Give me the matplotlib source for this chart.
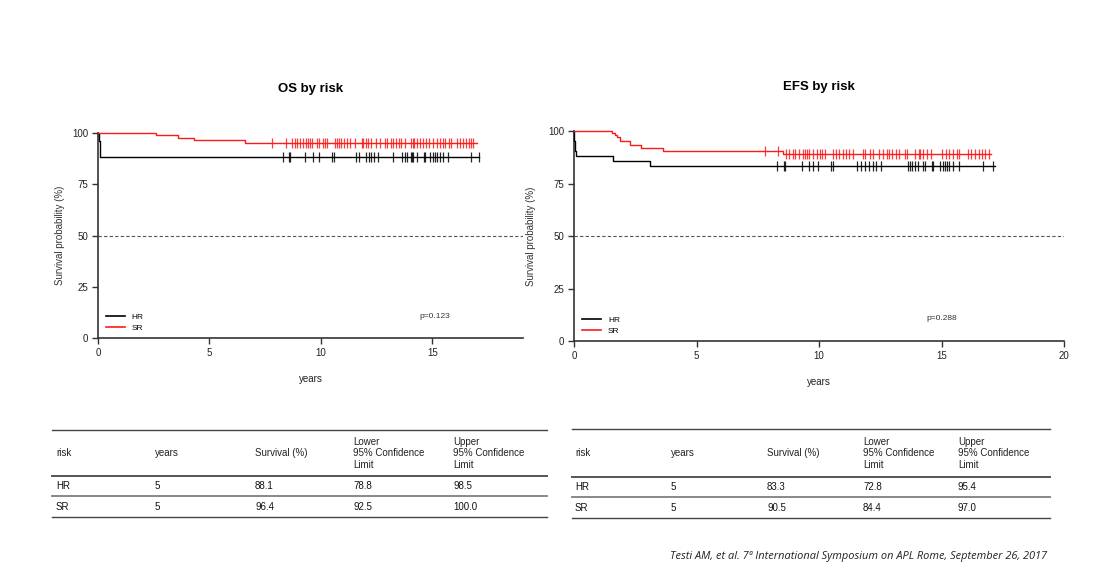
import numpy as np
import matplotlib.pyplot as plt
from matplotlib.lines import Line2D

plt.rcParams['font.family'] = ['Liberation Sans', 'DejaVu Sans']

# ---- OS by risk ----
os_hr_times = [0.0, 0.03, 0.08]
os_hr_surv = [100.0, 96.0, 88.1]
os_hr_end = 17.1
os_hr_cens = [8.30, 8.55, 8.60, 9.29, 9.65, 9.92, 10.50, 10.57, 11.55, 11.71, 12.01, 12.14,
              12.26, 12.38, 12.55, 13.22, 13.64, 13.78, 13.87, 14.02, 14.08, 14.14, 14.29,
              14.63, 14.67, 14.87, 15.04, 15.13, 15.22, 15.34, 15.46, 15.71, 16.72, 17.07]

os_sr_times = [0.0, 2.6, 3.6, 4.3, 6.6]
os_sr_surv = [100.0, 98.9, 97.8, 96.4, 95.2]
os_sr_end = 16.98
os_sr_cens = [7.81, 8.43, 8.70, 8.82, 8.93, 9.05, 9.20, 9.35, 9.44, 9.50, 9.59, 9.80, 9.92,
              10.10, 10.19, 10.25, 10.61, 10.70, 10.79, 10.88, 11.03, 11.18, 11.30, 11.54,
              11.83, 11.89, 12.01, 12.13, 12.25, 12.46, 12.64, 12.88, 12.94, 13.12, 13.24,
              13.36, 13.51, 13.57, 13.78, 14.02, 14.11, 14.17, 14.29, 14.43, 14.58, 14.73,
              14.85, 15.03, 15.21, 15.33, 15.45, 15.57, 15.72, 15.84, 16.11, 16.23, 16.35,
              16.50, 16.62, 16.74, 16.83]

# ---- EFS by risk ----
efs_hr_times = [0.0, 0.02, 0.05, 0.1, 1.6, 3.1]
efs_hr_surv = [100.0, 95.2, 90.5, 88.1, 85.7, 83.3]
efs_hr_end = 17.2
efs_hr_cens = [8.30, 8.57, 8.60, 9.30, 9.60, 9.77, 9.96, 10.50, 10.56, 11.54, 11.70, 11.86,
               12.05, 12.19, 12.32, 12.52, 13.63, 13.71, 13.79, 13.90, 14.04, 14.26, 14.31,
               14.61, 14.66, 14.94, 15.07, 15.15, 15.24, 15.32, 15.45, 15.73, 16.71, 17.09]

efs_sr_times = [0.0, 1.54, 1.68, 1.74, 1.88, 2.29, 2.73, 3.65, 8.55]
efs_sr_surv = [100.0, 98.9, 98.1, 97.0, 95.2, 93.3, 92.0, 90.5, 89.1]
efs_sr_end = 17.0
efs_sr_cens = [7.79, 8.33, 8.65, 8.79, 8.92, 9.03, 9.20, 9.33, 9.44, 9.49, 9.60, 9.77, 9.93,
               10.04, 10.12, 10.26, 10.56, 10.69, 10.80, 10.96, 11.10, 11.24, 11.40, 11.81,
               11.89, 12.08, 12.22, 12.43, 12.60, 12.76, 12.87, 12.98, 13.14, 13.28, 13.49,
               13.58, 13.93, 14.07, 14.12, 14.26, 14.42, 14.58, 15.02, 15.18, 15.29, 15.48,
               15.62, 15.73, 16.08, 16.22, 16.35, 16.52, 16.65, 16.79, 16.92]

# ---- tables ----
table_header = ['risk', 'years', 'Survival (%)', 'Lower\n95% Confidence\nLimit',
                'Upper\n95% Confidence\nLimit']
os_table = [['HR', '5', '88.1', '78.8', '98.5'],
            ['SR', '5', '96.4', '92.5', '100.0']]
efs_table = [['HR', '5', '83.3', '72.8', '95.4'],
             ['SR', '5', '90.5', '84.4', '97.0']]

W, H = 1120, 585
RED = '#ff1a1a'


def px(x, y):
    return x / W, 1 - y / H


def km_curve(ax, times, surv, end, cens, color):
    t = list(times) + [end]
    s = list(surv) + [surv[-1]]
    ax.step(t, s, where='post', color=color, lw=1.0, clip_on=False, zorder=3)
    idx = np.searchsorted(times, cens, side='right') - 1
    ax.plot(cens, np.array(surv)[idx], ls='none', marker='|', ms=6.5, mew=0.9,
            color=color, alpha=0.85, clip_on=False, zorder=4)


def km_panel(rect, title, xmax, xticks, curves, pval, title_y, xlabel_y, ylabel_x):
    ax = fig.add_axes(rect)
    for c in curves:
        km_curve(ax, *c)
    ax.axhline(50, color='#555555', lw=0.8, ls=(0, (3, 2)))
    ax.set_xlim(0, xmax)
    ax.set_ylim(0, 100)
    ax.set_xticks(xticks)
    ax.set_yticks([0, 25, 50, 75, 100])
    for s in ['top', 'right']:
        ax.spines[s].set_visible(False)
    for s in ['left', 'bottom']:
        ax.spines[s].set_linewidth(1.2)
        ax.spines[s].set_color('#333333')
    ax.tick_params(direction='out', length=4, width=1, labelsize=7, pad=3,
                   colors='#333333', labelcolor='#222222')
    ax.text(14.4, 10, pval, fontsize=6, color='#333333')
    handles = [Line2D([], [], color='black', lw=1.2), Line2D([], [], color=RED, lw=1.2)]
    ax.legend(handles, ['HR', 'SR'], loc='lower left', bbox_to_anchor=(0.01, 0.015),
              frameon=False, fontsize=6, handlelength=2.3, handletextpad=0.8,
              labelspacing=0.3, borderaxespad=0)
    fig.text(*px((rect[0] + rect[2] / 2) * W, title_y), title, ha='center', va='center',
             fontsize=9.5, fontweight='bold')
    fig.text(*px((rect[0] + rect[2] / 2) * W, xlabel_y), 'years', ha='center', va='center',
             fontsize=7, color='#222222')
    fig.text(*px(ylabel_x, (1 - rect[1] - rect[3] / 2) * H), 'Survival probability (%)',
             rotation=90, ha='center', va='center', fontsize=7, color='#333333')
    return ax


def table(x0, x1, col_x, y_top, y_head, y_mid, y_bot, rows_y, header, rows):
    fig.add_artist(Line2D([x0 / W, x1 / W], [1 - y_top / H] * 2, color='#444444', lw=1.0))
    fig.add_artist(Line2D([x0 / W, x1 / W], [1 - y_head / H] * 2, color='#555555', lw=1.4))
    fig.add_artist(Line2D([x0 / W, x1 / W], [1 - y_mid / H] * 2, color='#888888', lw=1.4))
    fig.add_artist(Line2D([x0 / W, x1 / W], [1 - y_bot / H] * 2, color='#444444', lw=1.0))
    hy = (y_top + y_head) / 2 + 0.5
    for cx, h in zip(col_x, header):
        fig.text(*px(cx, hy), h, ha='left', va='center', fontsize=7, color='#222222',
                 linespacing=1.15)
    for ry, row in zip(rows_y, rows):
        for cx, v in zip(col_x, row):
            fig.text(*px(cx, ry), v, ha='left', va='center', fontsize=7, color='#111111')


fig = plt.figure(figsize=(W / 100, H / 100), dpi=100)

os_rect = [98 / W, 1 - 338 / H, (523 - 98) / W, (338 - 133) / H]
km_panel(os_rect, 'OS by risk', 19.06, [0, 5, 10, 15],
         [(os_hr_times, os_hr_surv, os_hr_end, os_hr_cens, 'black'),
          (os_sr_times, os_sr_surv, os_sr_end, os_sr_cens, RED)],
         'p=0.123', 89, 379, 60)

efs_rect = [574 / W, 1 - 341 / H, (1064 - 574) / W, (341 - 131) / H]
km_panel(efs_rect, 'EFS by risk', 20, [0, 5, 10, 15, 20],
         [(efs_hr_times, efs_hr_surv, efs_hr_end, efs_hr_cens, 'black'),
          (efs_sr_times, efs_sr_surv, efs_sr_end, efs_sr_cens, RED)],
         'p=0.288', 87, 382, 531)

table(52, 547, [56, 155, 255, 353, 453], 430, 476, 496, 517, [486, 507],
      table_header, os_table)
table(572, 1050, [575, 671, 767, 863, 958], 429, 477, 497, 518, [487, 508],
      table_header, efs_table)

fig.text(*px(1047, 557), 'Testi AM, et al. 7ª International Symposium on APL Rome, September 26, 2017',
         ha='right', va='center', fontsize=7.9, style='italic', color='#222222',
         family=['Open Sans', 'DejaVu Sans'])

fig.savefig('out.png', dpi=100)
